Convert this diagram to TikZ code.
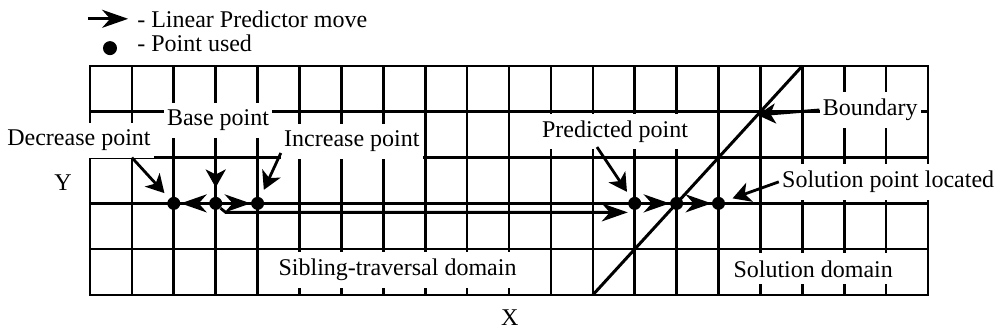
\documentclass[tikz,border=0pt]{standalone}
\usepackage{fontspec}
\setmainfont{Liberation Serif}
\usetikzlibrary{arrows.meta, positioning}

\begin{document}
\begin{tikzpicture}[
  x=20.95pt, y=22.9pt,
  every node/.style={font=\fontsize{12}{14}\selectfont},
  gridline/.style={line width=1.3pt, line cap=rect},
  ptlabel/.style={fill=white, inner xsep=1.5pt, inner ysep=3.5pt},
  dot/.style={circle, fill=black, inner sep=0pt, minimum size=6.5pt},
  move/.style={-{Stealth[length=13pt, width=9pt, inset=4pt]}, line width=1.4pt},
  pointer/.style={-{Stealth[length=9pt, width=10pt, inset=2.5pt]}, line width=1.4pt}
]
  \useasboundingbox (-2.148,-0.873) rectangle (21.671,6.441);

  % Legend
  \coordinate (legtail) at (-0.05,6.03);
  \coordinate (leghead) at (0.91,6.03);
  \draw[move] (legtail) -- (leghead);
  \node[anchor=base west, inner sep=0pt] (legmove) at (1.12,5.85) {- Linear Predictor move};
  \node[dot, minimum size=7pt] (legpt) at (0.477,5.39) {};
  \node[anchor=base west, inner sep=0pt] (legdot) at (1.12,5.306) {- Point used};

  % Search space
  \foreach \i in {0,...,20}
    \draw[gridline] (\i,0) -- (\i,5);
  \foreach \j in {0,...,5}
    \draw[gridline] (0,\j) -- (20,\j);
  \draw[line width=1.5pt] (12,0) -- (17,5);
  \coordinate (bd) at (15.93,3.93);

  % Points used
  \node[dot] (pd) at (2,2) {};
  \node[dot] (pb) at (3,2) {};
  \node[dot] (pi) at (4,2) {};
  \node[dot] (pp) at (13,2) {};
  \node[dot] (pm) at (14,2) {};
  \node[dot] (ps) at (15,2) {};

  % Labels
  \node[ptlabel] (decl) at (-0.263,3.38) {Decrease point};
  \node[ptlabel] (basel) at (3.055,3.82) {Base point};
  \node[ptlabel] (incl) at (6.25,3.36) {Increase point};
  \node[ptlabel] (predl) at (12.53,3.57) {Predicted point};
  \node[ptlabel] (bndl) at (18.62,4.04) {Boundary};
  \node[ptlabel] (soll) at (19.05,2.47) {Solution point located};
  \node[ptlabel] (sibl) at (7.34,0.546) {Sibling-traversal domain};
  \node[ptlabel] (soldl) at (17.26,0.57) {Solution domain};
  \node (xl) at (10.02,-0.50) {X};
  \node (yl) at (-0.644,2.445) {Y};

  % Pointers
  \coordinate (dectail) at (1,3);
  \coordinate (predtail) at (12.1,3.23);
  \draw[pointer, shorten >=3.5pt] (dectail) -- (pd);
  \draw[pointer, shorten >=4.5pt] (basel.south -| pb) -- (pb);
  \draw[pointer, shorten >=4pt] ([yshift=3pt]incl.south west) -- (pi);
  \draw[pointer, shorten >=3.5pt] (predtail) -- (pp);
  \draw[pointer] (bndl.west) -- (bd);
  \draw[pointer, shorten >=4pt] (soll.west) -- (ps);

  % Linear predictor moves
  \draw[move] (pb) -- (pd);
  \draw[move] (pb) -- (pi);
  \draw[move] (pb.south east) -- ([shift={(5pt,-4.5pt)}]pb.center) -- ([yshift=-4.5pt]pp.west);
  \draw[move] (pp) -- (pm);
  \draw[move] (pm) -- (ps);

\end{tikzpicture}
\end{document}
